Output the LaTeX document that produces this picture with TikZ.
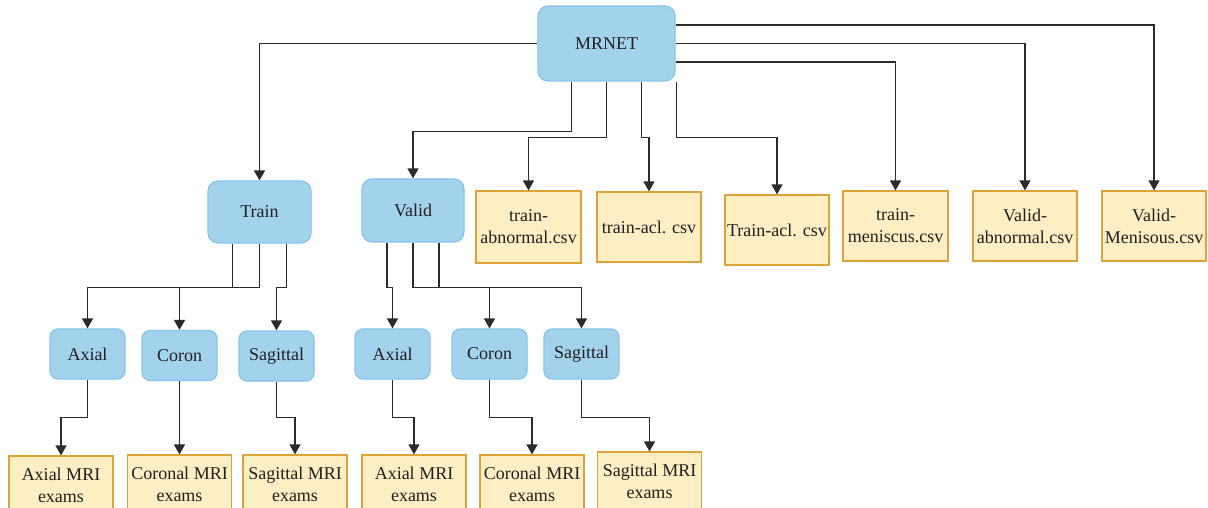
\documentclass[tikz,border=0pt]{standalone}
\usepackage{fontspec}
\setmainfont{Liberation Serif}
\usetikzlibrary{arrows.meta}
\definecolor{bluefill}{HTML}{A3D2EC}
\definecolor{blueline}{HTML}{86C4E8}
\definecolor{yelfill}{HTML}{FDEEC3}
\definecolor{yelline}{HTML}{DDA23A}
\definecolor{linec}{HTML}{2B2B2B}
\definecolor{txt}{HTML}{231F20}
\begin{document}
\begin{tikzpicture}[x=1pt,y=-1pt,
  every node/.style={font=\fontsize{18}{22}\selectfont,text=txt,align=center,inner sep=0pt},
  bluebox/.style={draw=blueline,fill=bluefill,line width=1.2pt,rounded corners=10pt},
  yelbox/.style={draw=yelline,fill=yelfill,line width=1.2pt},
  conn/.style={draw=linec,line width=1.3pt},
  arr/.style={conn,-{Triangle[length=10pt,width=11pt]}}]
\clip (0,0) rectangle (1208,508);
\fill[white] (0,0) rectangle (1208,508);
% top
\node[bluebox,minimum width=137pt,minimum height=75pt] (mrnet) at (606.5,43.5) {MRNET};
% level 2 blue
\node[bluebox,minimum width=103pt,minimum height=62pt] (train) at (259.5,212) {Train};
\node[bluebox,minimum width=102pt,minimum height=63pt] (valid) at (413,210.5) {Valid};
% csv boxes
\node[yelbox,minimum width=105pt,minimum height=72pt] (tab) at (528.5,227) {train-\\abnormal.csv};
\node[yelbox,minimum width=104pt,minimum height=70pt] (tacl) at (649,227) {train-acl. csv};
\node[yelbox,minimum width=104pt,minimum height=70pt] (Tacl) at (777,230) {Train-acl. csv};
\node[yelbox,minimum width=105pt,minimum height=70pt] (tmen) at (895.5,226) {train-\\meniscus.csv};
\node[yelbox,minimum width=104pt,minimum height=70pt] (vab) at (1025,226) {Valid-\\abnormal.csv};
\node[yelbox,minimum width=104pt,minimum height=70pt] (vmen) at (1154,226) {Valid-\\Menisous.csv};
% level 3 blue
\begin{scope}[every node/.append style={bluebox,rounded corners=8pt,minimum width=75pt,minimum height=50pt}]
\node (taxial) at (87.5,354) {Axial};
\node (tcoron) at (179.5,355.5) {Coron};
\node (tsag) at (276.5,356) {Sagittal};
\node (vaxial) at (392.5,354) {Axial};
\node (vcoron) at (489.5,354) {Coron};
\node (vsag) at (581.5,354) {Sagittal};
\end{scope}
% level 4 yellow
\begin{scope}[every node/.append style={yelbox,minimum width=104pt,minimum height=58pt}]
\node (tax4) at (61,485) {Axial MRI\\exams};
\node (tcor4) at (179.5,484) {Coronal MRI\\exams};
\node (tsag4) at (295,484) {Sagittal MRI\\exams};
\node (vax4) at (414,484) {Axial MRI\\exams};
\node (vcor4) at (532,484) {Coronal MRI\\exams};
\node (vsag4) at (649.5,481) {Sagittal MRI\\exams};
\end{scope}
% connectors from MRNET
\draw[arr] (mrnet.west) -| (train.north);
\draw[arr] ([yshift=18.5pt]mrnet.east) -| (vmen.north);
\draw[arr] (mrnet.east) -| (vab.north);
\draw[arr] ([yshift=-18.5pt]mrnet.east) -| (tmen.north);
\draw[arr] ([xshift=-35pt]mrnet.south) -- ++(0,50) -| (valid.north);
\draw[arr] (mrnet.south) -- ++(0,56) -| (tab.north);
\draw[arr] ([xshift=35pt]mrnet.south) -- ++(0,56) -| (tacl.north);
\draw[arr] ([xshift=70pt]mrnet.south) -- ++(0,56) -| (Tacl.north);
% train branches
\draw[arr] ([xshift=-27pt]train.south) -- ++(0,44) -| (taxial.north);
\draw[arr] (train.south) -- ++(0,44) -| (tcoron.north);
\draw[arr] ([xshift=27pt]train.south) -- ++(0,44) -| (tsag.north);
% valid branches
\draw[arr] ([xshift=-26pt]valid.south) -- ++(0,45) -| (vaxial.north);
\draw[arr] (valid.south) -- ++(0,45) -| (vcoron.north);
\draw[arr] ([xshift=26pt]valid.south) -- ++(0,45) -| (vsag.north);
% level 3 to level 4
\draw[arr] (taxial.south) -- ++(0,38) -| (tax4.north);
\draw[arr] (tcoron.south) -- (tcor4.north);
\draw[arr] (tsag.south) -- ++(0,36) -| (tsag4.north);
\draw[arr] (vaxial.south) -- ++(0,38) -| (vax4.north);
\draw[arr] (vcoron.south) -- ++(0,38) -| (vcor4.north);
\draw[arr] (vsag.south) -- ++(0,38) -| (vsag4.north);
\end{tikzpicture}
\end{document}
